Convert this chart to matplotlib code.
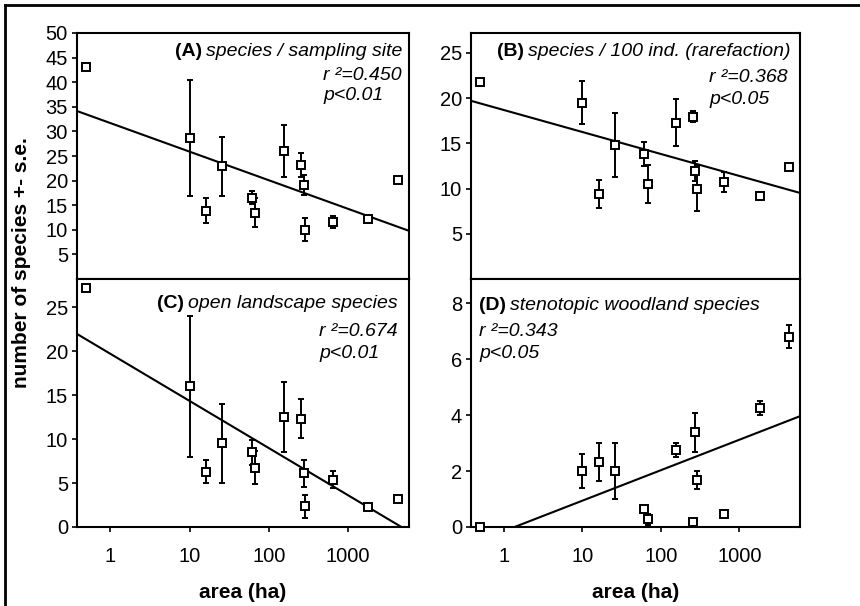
import numpy as np
import matplotlib
matplotlib.use('agg')
import matplotlib.pyplot as plt
from matplotlib.lines import Line2D

plt.rcParams['font.family'] = ['Liberation Sans', 'DejaVu Sans']

# patch area (ha), same sites in every panel
area = [0.5, 10, 16, 26, 61, 68, 155, 259, 275, 288, 640, 1810, 4260]

# (A) species per sampling site
a_mean = [43.0, 28.6, 13.9, 22.9, 16.5, 13.5, 26.0, 23.2, 19.1, 10.0, 11.6, 12.2, 20.2]
a_se = [0, 11.8, 2.6, 6.0, 1.3, 3.0, 5.3, 2.4, 2.1, 2.3, 1.2, 0.4, 0]
# (B) species per 100 individuals (rarefaction)
b_mean = [21.8, 19.5, 9.45, 14.8, 13.8, 10.5, 17.3, 17.95, 11.9, 10.0, 10.7, 9.2, 12.4]
b_se = [0, 2.35, 1.55, 3.5, 1.3, 2.1, 2.55, 0.6, 1.1, 2.5, 1.1, 0.4, 0]
# (C) open landscape species
c_mean = [27.2, 16.0, 6.3, 9.5, 8.5, 6.75, 12.5, 12.3, 6.1, 2.35, 5.4, 2.27, 3.2]
c_se = [0, 8.0, 1.35, 4.5, 1.4, 1.9, 4.0, 2.2, 1.5, 1.3, 1.0, 0.2, 0]
# (D) stenotopic woodland species
d_mean = [0.0, 2.0, 2.33, 2.0, 0.66, 0.27, 2.76, 0.19, 3.39, 1.69, 0.46, 4.26, 6.81]
d_se = [0, 0.6, 0.67, 1.0, 0.1, 0.2, 0.25, 0, 0.69, 0.33, 0, 0.25, 0.42]

# regression lines: y = intercept + slope * log10(area)
reg_intercept = [31.7, 18.68, 19.7, -0.147]
reg_slope = [-5.81, -2.43, -5.36, 1.09]

panel_letters = ['(A)', '(B)', '(C)', '(D)']
panel_titles = ['species / sampling site', 'species / 100 ind. (rarefaction)',
                'open landscape species', 'stenotopic woodland species']
r2_labels = ['r \u00b2=0.450', 'r \u00b2=0.368', 'r \u00b2=0.674', 'r \u00b2=0.343']
p_labels = ['p<0.01', 'p<0.05', 'p<0.01', 'p<0.05']

y_limits = [(0, 50), (0, 27.2), (0, 28.2), (0, 8.87)]
y_ticks = [range(5, 51, 5), range(5, 26, 5), range(0, 26, 5), range(0, 9, 2)]

means = [a_mean, b_mean, c_mean, d_mean]
ses = [a_se, b_se, c_se, d_se]

W, H = 860, 606
fig = plt.figure(figsize=(W / 100, H / 100), dpi=100)

# axes boxes in pixels: left, top, right, bottom
boxes = [(77, 33, 409, 279), (471, 33, 800, 279),
         (77, 279, 409, 527), (471, 279, 800, 527)]
axes = []
for (l, t, r, b) in boxes:
    axes.append(fig.add_axes([l / W, 1 - b / H, (r - l) / W, (b - t) / H]))

xmin, xmax = 0.38, 5900
xfit = np.logspace(np.log10(xmin), np.log10(xmax), 50)

for i, ax in enumerate(axes):
    ax.set_xscale('log')
    ax.set_xlim(xmin, xmax)
    ax.set_ylim(*y_limits[i])
    ax.set_yticks(list(y_ticks[i]))
    ax.set_xticks([1, 10, 100, 1000])
    ax.set_xticklabels(['1', '10', '100', '1000'])
    ax.xaxis.set_minor_locator(matplotlib.ticker.NullLocator())
    for s in ax.spines.values():
        s.set_linewidth(1.5)
    ax.tick_params(direction='out', length=3.5, width=1.2, labelsize=14.5, pad=3)
    ax.tick_params(axis='x', pad=11)
    if i < 2:
        ax.tick_params(axis='x', labelbottom=False)

    ax.plot(xfit, reg_intercept[i] + reg_slope[i] * np.log10(xfit),
            color='black', lw=1.5, zorder=2)
    ax.errorbar(area, means[i], yerr=ses[i], fmt='none', ecolor='black',
                elinewidth=1.4, capsize=2.2, capthick=1.4, zorder=3)
    ax.plot(area, means[i], 's', ms=6.2, mfc='white', mec='black', mew=1.4,
            zorder=4, clip_on=False)

# panel titles and statistics
font_sz = 14
for i in [0, 1, 2]:
    ax = axes[i]
    dy = [-19, -19, -24][i]
    dx = [-7, -9, -11][i]
    t_it = ax.annotate(panel_titles[i], xy=(1, 1), xycoords='axes fraction',
                       xytext=(dx, dy), textcoords='offset pixels',
                       ha='right', va='center', style='italic', fontsize=font_sz)
    ax.annotate(panel_letters[i], xy=(0, 0.5), xycoords=t_it, xytext=(-4, 0),
                textcoords='offset pixels', ha='right', va='center',
                weight='bold', fontsize=font_sz)
    stat_y = [(-43, -63), (-44, -67), (-52, -74)][i]
    rdx = [-7, -12, -11][i]
    r_txt = ax.annotate(r2_labels[i], xy=(1, 1), xycoords='axes fraction',
                        xytext=(rdx, stat_y[0]), textcoords='offset pixels',
                        ha='right', va='center', style='italic', fontsize=font_sz)
    ax.annotate(p_labels[i], xy=(0, 0.5), xycoords=r_txt,
                xytext=(0, stat_y[1] - stat_y[0]), textcoords='offset pixels',
                ha='left', va='center', style='italic', fontsize=font_sz)

ax = axes[3]
t_bf = ax.annotate(panel_letters[3], xy=(0, 1), xycoords='axes fraction',
                   xytext=(8, -26), textcoords='offset pixels',
                   ha='left', va='center', weight='bold', fontsize=font_sz)
ax.annotate(panel_titles[3], xy=(1, 0.5), xycoords=t_bf, xytext=(4, 0),
            textcoords='offset pixels', ha='left', va='center',
            style='italic', fontsize=font_sz)
ax.annotate(r2_labels[3], xy=(0, 1), xycoords='axes fraction', xytext=(8, -53),
            textcoords='offset pixels', ha='left', va='center',
            style='italic', fontsize=font_sz)
ax.annotate(p_labels[3], xy=(0, 1), xycoords='axes fraction', xytext=(8, -74),
            textcoords='offset pixels', ha='left', va='center',
            style='italic', fontsize=font_sz)

# axis labels
for ax in axes[2:]:
    ax.set_xlabel('area (ha)', fontsize=15, weight='bold')
    ax.xaxis.set_label_coords(0.5, -66 / 248)
    ax.xaxis.label.set_va('center')
fig.text(22 / W, 1 - 263 / H, 'number of species +- s.e.', rotation=90,
         ha='center', va='center', fontsize=15, weight='bold')

# frame lines along top and left edges
fig.add_artist(Line2D([5 / W, 1], [1 - 5 / H, 1 - 5 / H], color='black', lw=2))
fig.add_artist(Line2D([5 / W, 5 / W], [0, 1 - 5 / H], color='black', lw=2))

fig.savefig('out.png', dpi=100)
